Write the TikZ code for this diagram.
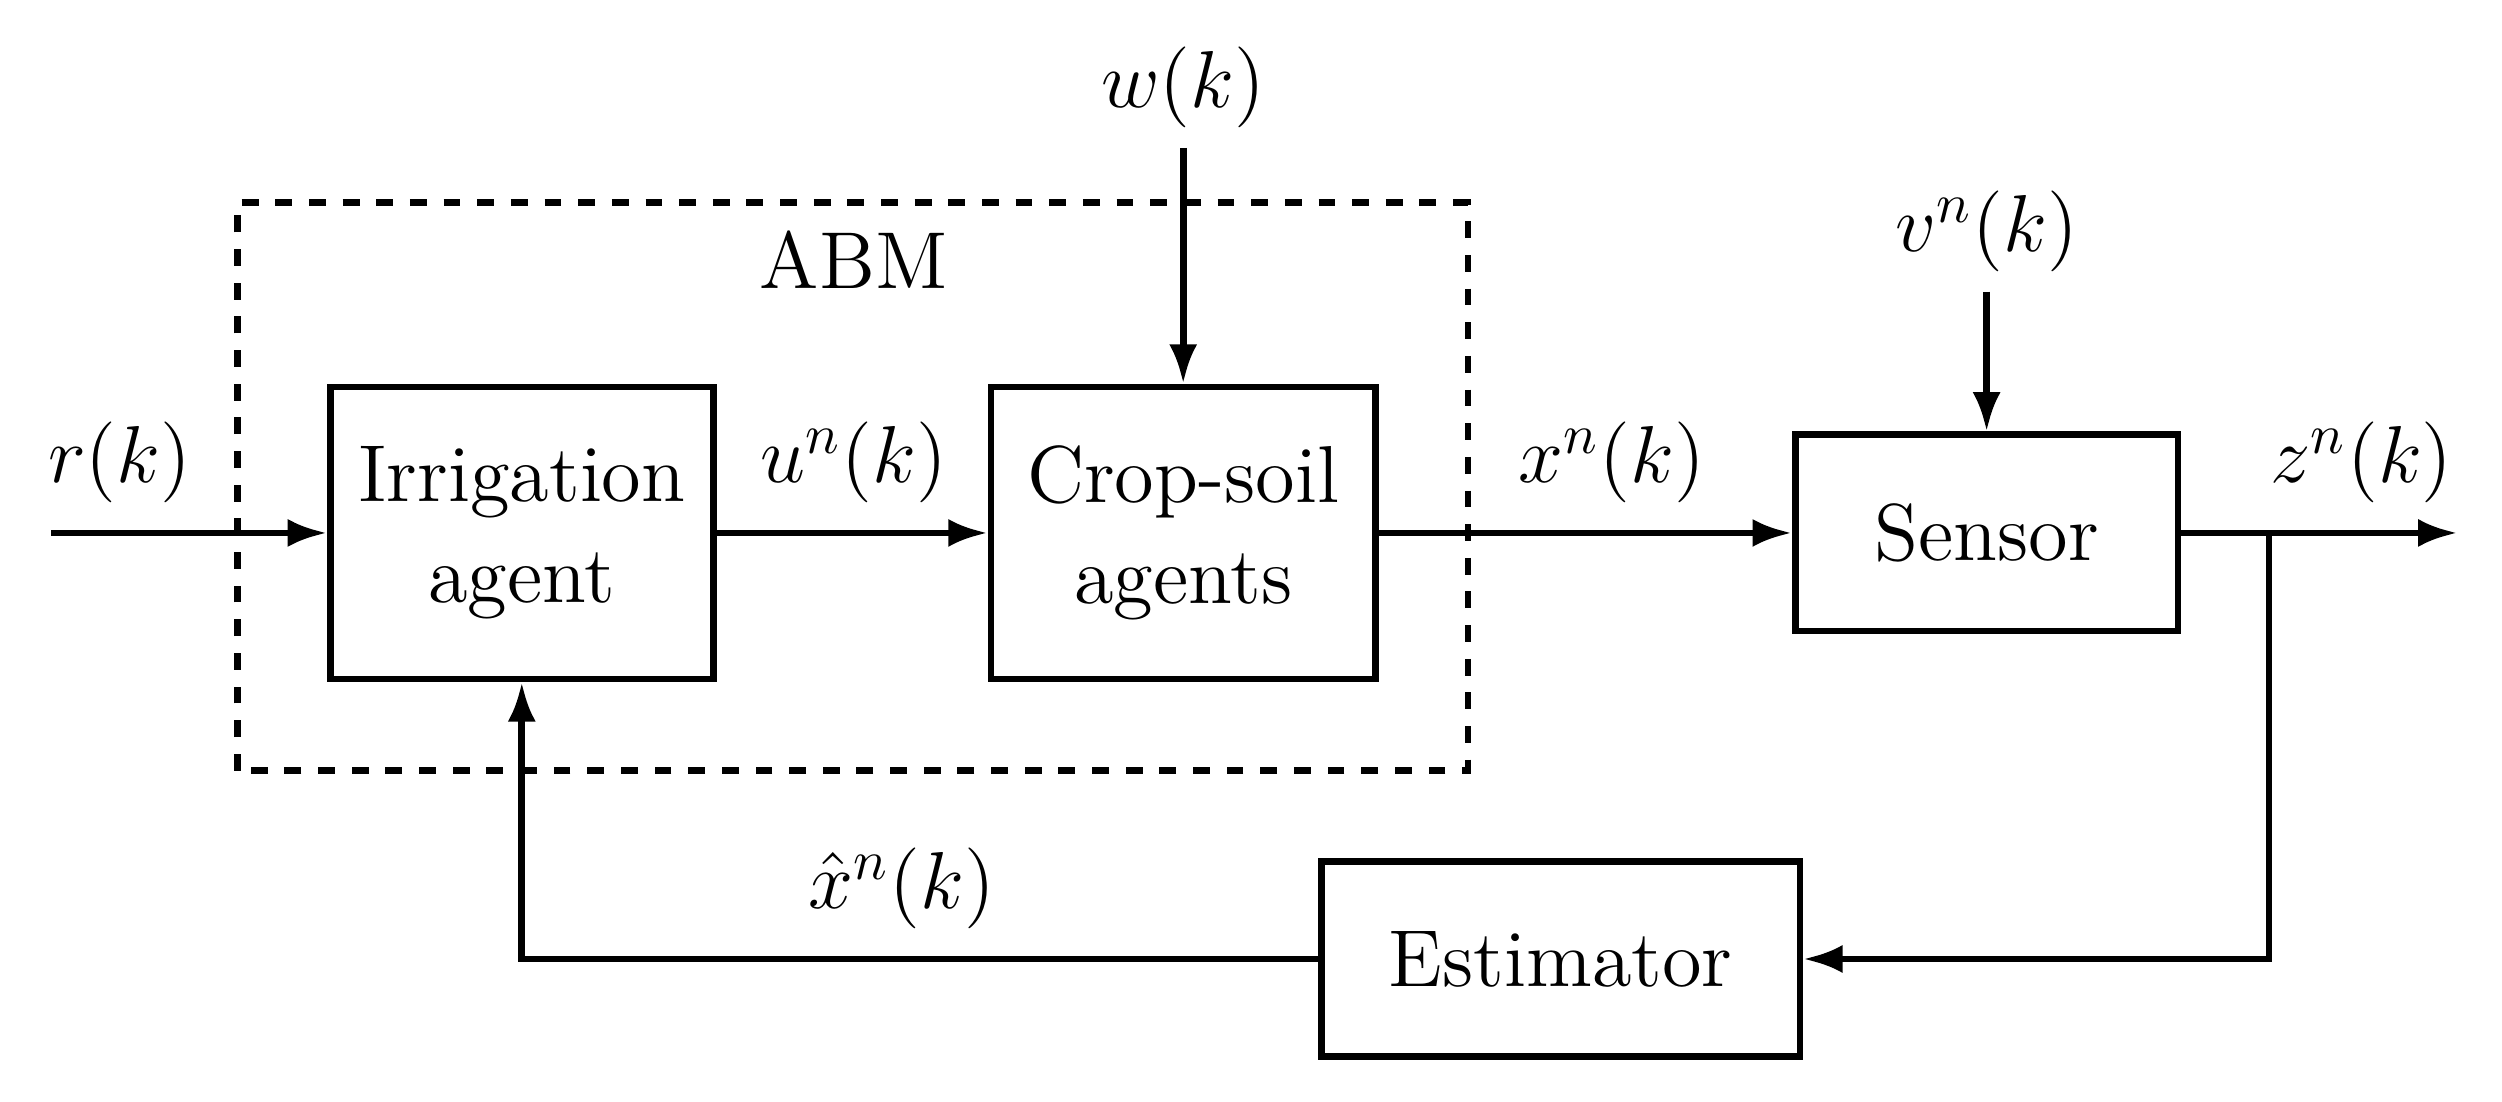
\documentclass[tikz,border=0pt]{standalone}
\usepackage{amsmath}
\usepackage{tikz}
\usetikzlibrary{positioning}
\usetikzlibrary{arrows.meta}

\begin{document}
\begin{tikzpicture}[
    blk/.style={draw, line width=1.2pt, align=center, font=\Large, inner sep=0pt},
    sig/.style={line width=1.2pt, -{Latex[length=7pt,width=5pt]}},
    lbl/.style={font=\Large}
]
    \useasboundingbox (0, 0) rectangle (15.68, 6.9);
    % blocchi
    \node[blk, minimum width=2.4cm, minimum height=1.83cm] (irr) at (3.27, 3.56) {Irrigation\\agent};
    \node[blk, minimum width=2.41cm, minimum height=1.83cm] (crop) at (7.415, 3.56) {Crop-soil\\agents};
    \node[blk, minimum width=2.4cm, minimum height=1.23cm] (sens) at (12.45, 3.56) {Sensor};
    \node[blk, minimum width=3.0cm, minimum height=1.22cm] (est) at (9.78, 0.89) {Estimator};
    % ABM
    \draw[line width=1.2pt, dashed] (1.49, 2.07) rectangle (9.2, 5.63);
    \node[lbl] (abm) at (5.35, 5.27) {ABM};
    % punti
    \coordinate (in) at (0.32, 3.56);
    \coordinate (out) at (15.4, 3.56);
    \coordinate (br) at (14.22, 3.56);
    \node[lbl] (w) at (7.415, 6.35) {$w(k)$};
    \node[lbl] (v) at (12.45, 5.45) {$v^n(k)$};
    % segnali
    \draw[sig] (in) -- (irr);
    \draw[sig] (irr) -- (crop);
    \draw[sig] (crop) -- (sens);
    \draw[sig] (sens) -- (out);
    \draw[sig] (w) -- (crop);
    \draw[sig] (v) -- (sens);
    \draw[sig] (br) |- (est);
    \draw[sig] (est) -| (irr);
    % etichette
    \node[lbl] at (0.75, 4.0) {$r(k)$};
    \node[lbl] at (5.35, 4.0) {$u^n(k)$};
    \node[lbl] at (10.1, 4.0) {$x^n(k)$};
    \node[lbl] at (14.8, 4.0) {$z^n(k)$};
    \node[lbl] at (5.65, 1.33) {$\hat{x}^n(k)$};
\end{tikzpicture}
\end{document}
